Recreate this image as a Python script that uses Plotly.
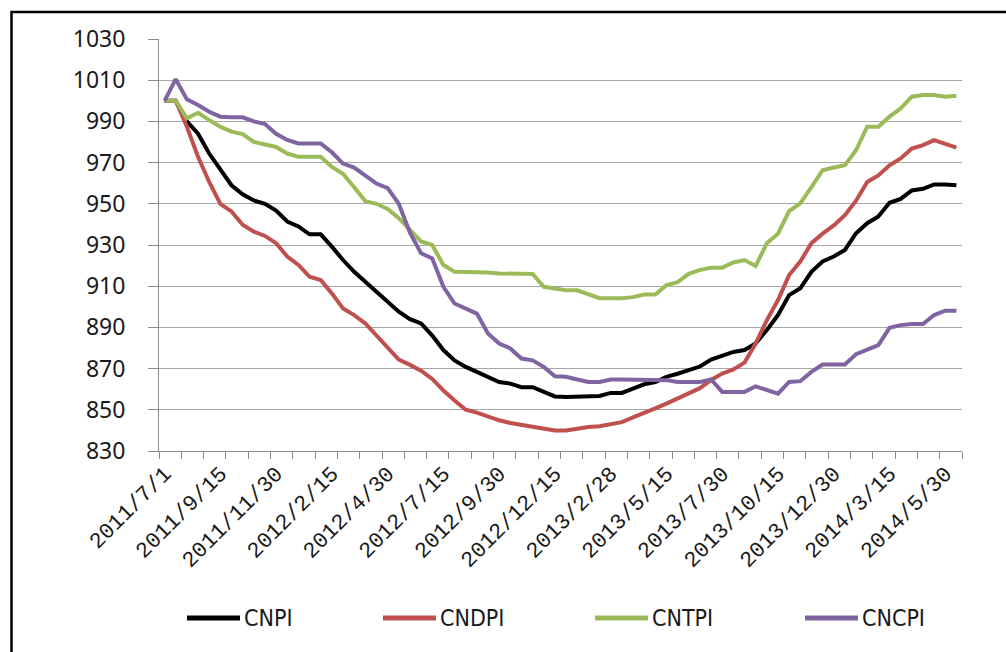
import plotly.graph_objects as go

# Semi-monthly observation dates
dates = [
    "2011/7/1", "2011/7/15", "2011/7/30", "2011/8/15", "2011/8/30", "2011/9/15",
    "2011/9/30", "2011/10/15", "2011/10/30", "2011/11/15", "2011/11/30", "2011/12/15",
    "2011/12/30", "2012/1/15", "2012/1/30", "2012/2/15", "2012/2/28", "2012/3/15",
    "2012/3/30", "2012/4/15", "2012/4/30", "2012/5/15", "2012/5/30", "2012/6/15",
    "2012/6/30", "2012/7/15", "2012/7/30", "2012/8/15", "2012/8/30", "2012/9/15",
    "2012/9/30", "2012/10/15", "2012/10/30", "2012/11/15", "2012/11/30", "2012/12/15",
    "2012/12/30", "2013/1/15", "2013/1/30", "2013/2/15", "2013/2/28", "2013/3/15",
    "2013/3/30", "2013/4/15", "2013/4/30", "2013/5/15", "2013/5/30", "2013/6/15",
    "2013/6/30", "2013/7/15", "2013/7/30", "2013/8/15", "2013/8/30", "2013/9/15",
    "2013/9/30", "2013/10/15", "2013/10/30", "2013/11/15", "2013/11/30", "2013/12/15",
    "2013/12/30", "2014/1/15", "2014/1/30", "2014/2/15", "2014/2/28", "2014/3/15",
    "2014/3/30", "2014/4/15", "2014/4/30", "2014/5/15", "2014/5/30", "2014/6/15",
]

cnpi = [
    1000, 1000, 990, 984, 974.4, 966.3, 959, 954.6, 951.6, 950,
    946.7, 941.4, 939, 935.2, 935.2, 929.2, 922.7, 917, 912.2, 907.3,
    902.7, 897.6, 894, 891.9, 886, 879, 874, 870.8, 868.4, 865.9,
    863.5, 862.7, 861, 861, 858.6, 856.5, 856.2, 856.5, 856.7, 856.7,
    858.2, 858.2, 860.3, 862.4, 863.5, 866, 867.5, 869, 871, 874.4,
    876, 878.1, 879, 882.2, 888.7, 896, 905.7, 909, 917, 922,
    924.4, 927.6, 935.7, 940.6, 943.8, 950.5, 952.4, 956.5, 957.3, 959.4,
    959.4, 959,
]
cndpi = [
    1000, 1000, 987.4, 972.8, 960.6, 950, 946.3, 939.8, 936.5, 934.4,
    930.9, 924.4, 920.3, 914.6, 913, 906.5, 899.2, 896, 891.9, 886.2,
    880.6, 874.4, 871.8, 869, 865, 859.4, 854.5, 850, 848.6, 846.7,
    844.9, 843.6, 842.8, 842, 840.9, 840, 840, 840.9, 841.7, 842,
    843, 844, 846.3, 848.3, 850.7, 853, 855.5, 858, 860.5, 864.5,
    867.6, 869.6, 872.9, 882.2, 893.5, 903.3, 915.4, 922, 930.9, 935.5,
    939.5, 944.5, 951.5, 960.6, 963.8, 968.7, 972, 976.8, 978.5, 980.9,
    979.3, 977.3,
]
cntpi = [
    1000, 1000, 991.5, 994.2, 990.6, 987.4, 985, 983.8, 980, 979,
    977.6, 974.4, 972.8, 972.8, 972.8, 967.9, 964.6, 958, 951.3, 950,
    947.5, 943, 937, 931.7, 930, 920.3, 917, 917, 917, 916.6,
    916.2, 916.2, 916.2, 915.9, 909.7, 908.9, 908, 908, 906, 904.2,
    904.2, 904.2, 904.7, 906, 906, 910.5, 912, 916, 917.9, 919,
    919, 921.5, 922.7, 919.8, 930.9, 935.5, 946.5, 950.2, 958.1, 966.3,
    967.6, 968.7, 976, 987.4, 987.4, 992.3, 996.3, 1002, 1002.8, 1002.8,
    1002, 1002.5,
]
cncpi = [
    1000, 1010.5, 1000.7, 998, 994.7, 992.3, 992, 992, 990, 988.7,
    984, 981, 979.3, 979.3, 979.3, 975, 969.5, 967.6, 963.8, 959.8,
    957.6, 950, 936, 926, 923.5, 909.7, 901.6, 899.2, 896.7, 887,
    882.2, 879.8, 874.9, 874, 870.8, 866.3, 866, 864.7, 863.5, 863.5,
    864.7, 864.7, 864.7, 864.7, 864.7, 864.4, 863.5, 863.5, 863.5, 864.7,
    858.7, 858.7, 858.7, 861.4, 859.8, 857.8, 863.5, 863.9, 868.4, 872,
    872, 872, 877, 879, 881.4, 889.8, 891.1, 891.6, 891.6, 896,
    898.1, 898.1,
]

series_names = ["CNPI", "CNDPI", "CNTPI", "CNCPI"]
series_values = [cnpi, cndpi, cntpi, cncpi]
series_colors = ["#000000", "#C0504D", "#9BBB59", "#8064A2"]

y_ticks = [830, 850, 870, 890, 910, 930, 950, 970, 990, 1010, 1030]
label_step = 5

W, H = 1006, 652
L, R, T, B = 159, 44, 39, 201
plot_w = W - L - R
plot_h = H - T - B


def px_to_paper(px, py):
    return (px - L) / plot_w, (H - B - py) / plot_h


idx = list(range(len(dates)))
fig = go.Figure()
for name, vals, col in zip(series_names, series_values, series_colors):
    fig.add_trace(go.Scatter(
        x=idx, y=vals, customdata=dates, name=name, mode="lines",
        line=dict(color=col, width=4), showlegend=False,
        hovertemplate="%{customdata}: %{y}<extra>" + name + "</extra>",
    ))

# Hand-drawn legend row below the axis labels
legend_line_x = [187, 383, 595, 805]
legend_y = 618
shapes = []
annotations = []
for name, col, lx in zip(series_names, series_colors, legend_line_x):
    x0, y0 = px_to_paper(lx, legend_y)
    x1, _ = px_to_paper(lx + 53, legend_y)
    shapes.append(dict(type="line", xref="paper", yref="paper", x0=x0, x1=x1,
                       y0=y0, y1=y0, line=dict(color=col, width=5)))
    tx, _ = px_to_paper(lx + 55, legend_y)
    annotations.append(dict(xref="paper", yref="paper", x=tx, y=y0, text=name,
                            showarrow=False, xanchor="left", yanchor="middle",
                            font=dict(family="Liberation Sans Narrow, DejaVu Sans Condensed, sans-serif",
                                      size=23, color="#1a1a1a")))

# Outer chart frame
fx0, fy0 = px_to_paper(11.5, 12)
fx1, fy1 = px_to_paper(1015, 665)
shapes.append(dict(type="rect", xref="paper", yref="paper", x0=fx0, x1=fx1,
                   y0=fy1, y1=fy0, line=dict(color="#000000", width=2.5)))

fig.update_layout(
    width=W, height=H,
    margin=dict(l=L, r=R, t=T, b=B, autoexpand=False),
    paper_bgcolor="white", plot_bgcolor="white",
    template=None,
    shapes=shapes, annotations=annotations,
    showlegend=False,
    xaxis=dict(
        range=[-0.5, len(dates) - 0.5],
        tickmode="array",
        tickvals=idx[::label_step],
        ticktext=dates[::label_step],
        tickangle=-45,
        ticks="outside", ticklen=0,
        tickfont=dict(family="Liberation Mono, DejaVu Sans Mono, monospace", size=22, color="#1a1a1a"),
        minor=dict(tickmode="array",
                   tickvals=[i - 0.5 for i in range(0, len(dates) + 1, 2)],
                   ticks="outside", ticklen=7, tickcolor="#8c8c8c", tickwidth=1, showgrid=False),
        showline=True, linecolor="#8c8c8c", linewidth=1,
        showgrid=False, zeroline=False, automargin=False,
    ),
    yaxis=dict(
        range=[y_ticks[0], y_ticks[-1]],
        tickmode="array", tickvals=y_ticks,
        ticks="outside", ticklen=10, tickcolor="#8c8c8c", tickwidth=1,
        ticklabelstandoff=18,
        tickfont=dict(family="Noto Sans, sans-serif", size=23, color="#1a1a1a"),
        showline=True, linecolor="#8c8c8c", linewidth=1,
        showgrid=True, gridcolor="#a6a6a6", gridwidth=1,
        zeroline=False, automargin=False,
    ),
)

fig.write_html("out.html")
